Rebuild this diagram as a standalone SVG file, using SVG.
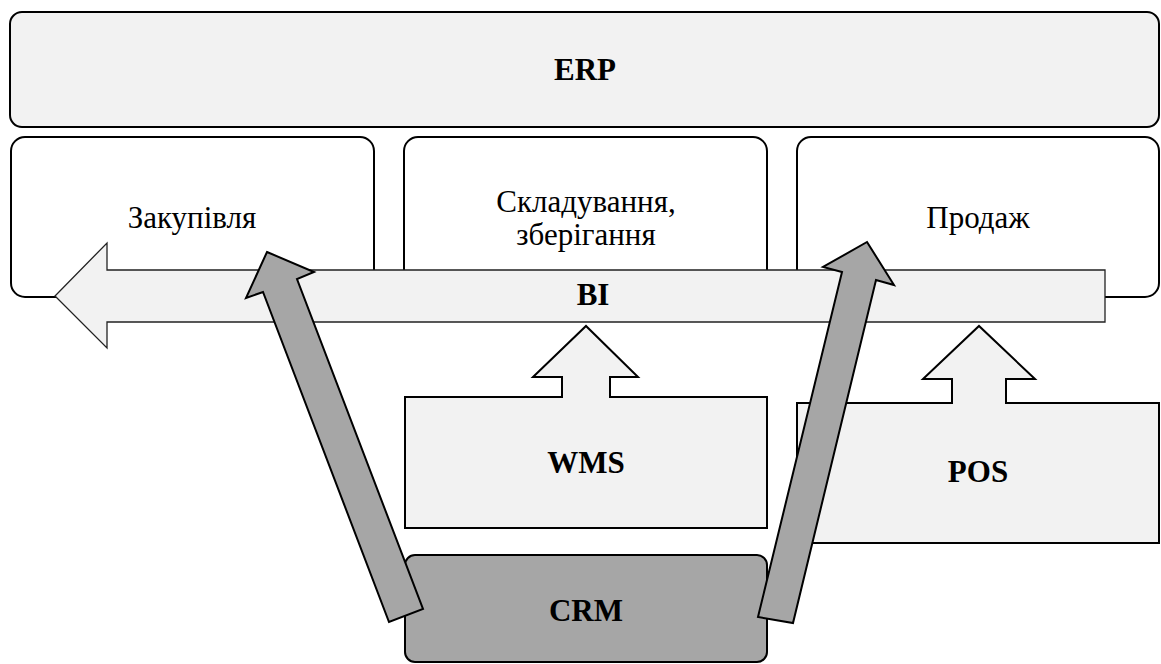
<svg xmlns="http://www.w3.org/2000/svg" width="1161" height="664" viewBox="0 0 1161 664">
  <style>
    .box { fill: #ffffff; stroke: #000; stroke-width: 2; }
    .light { fill: #f2f2f2; stroke: #000; stroke-width: 2; }
    .thin { fill: #f2f2f2; stroke: #222; stroke-width: 1.3; }
    .dark { fill: #a6a6a6; stroke: #000; stroke-width: 2; stroke-linejoin: miter; }
    .t { font-family: 'Liberation Serif', 'DejaVu Serif', serif; font-size: 31px; fill: #000; text-anchor: middle; }
    .b { font-weight: bold; }
  </style>
  <rect width="1161" height="664" fill="#ffffff"/>
  <g id="erp">
    <rect class="light" x="10" y="12" width="1149" height="115" rx="12"/>
    <text class="t b" x="585" y="80">ERP</text>
  </g>
  <g id="zakupivlya">
    <rect class="box" x="11" y="137" width="363" height="160" rx="14"/>
    <text class="t" x="192" y="228">Закупівля</text>
  </g>
  <g id="skladuvannya">
    <rect class="box" x="404" y="137" width="363" height="160" rx="14"/>
    <text class="t" x="586" y="212">Складування,</text>
    <text class="t" x="586" y="245">зберігання</text>
  </g>
  <g id="prodazh">
    <rect class="box" x="797" y="137" width="362" height="160" rx="14"/>
    <text class="t" x="978" y="228">Продаж</text>
  </g>
  <g id="bi">
    <polygon class="thin" points="1105,270 107,270 107,243 55,296 107,348 107,322 1105,322"/>
    <text class="t b" x="593" y="305">BI</text>
  </g>
  <g id="wms">
    <polygon class="light" points="405,397 562,397 562,377 533,377 586,326 638,377 610,377 610,397 767,397 767,528 405,528"/>
    <text class="t b" x="586" y="473">WMS</text>
  </g>
  <g id="pos">
    <polygon class="light" points="797,403 952,403 952,379 923,379 979,326 1035,379 1006,379 1006,403 1159,403 1159,543 797,543"/>
    <text class="t b" x="978" y="482">POS</text>
  </g>
  <g id="crm">
    <rect class="dark" x="405" y="555" width="362" height="107" rx="10"/>
    <text class="t b" x="586" y="621">CRM</text>
  </g>
  <g id="connectors">
    <polygon class="dark" points="267,252 314,272 297,279 423,609 389,622 263,292 246,298"/>
    <polygon class="dark" points="867,242 894,285 876,280 793,623 758,617 842,272 823,267"/>
  </g>
</svg>
